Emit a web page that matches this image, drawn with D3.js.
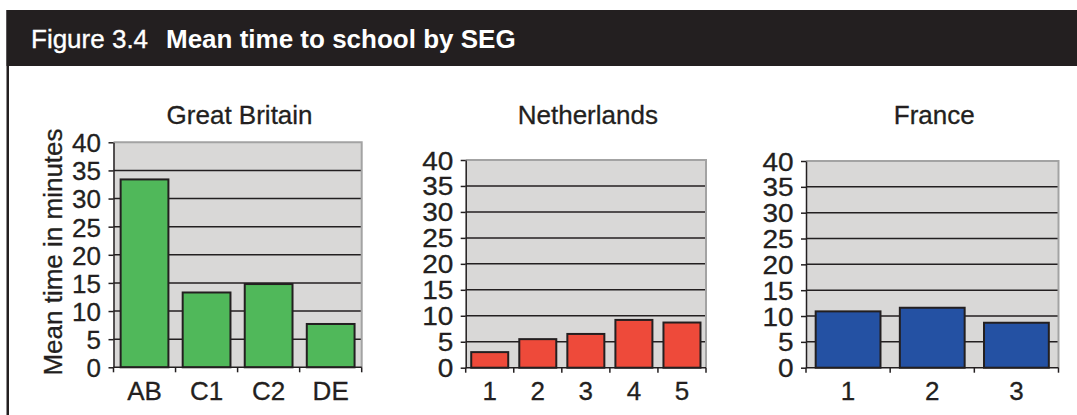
<!DOCTYPE html>
<html><head><meta charset="utf-8">
<script src="https://cdn.jsdelivr.net/npm/d3@7"></script>
<style>
body{margin:0;background:#fff}
svg{display:block}
text{font-family:"Liberation Sans", Arial, Helvetica, sans-serif;fill:#231f20}
</style>
</head><body>
<svg id="c" width="1077" height="415"></svg>
<script>
// ---- data ----
const figureNumber = "Figure 3.4";
const figureTitle = "Mean time to school by SEG";
const yAxisTitle = "Mean time in minutes";
const panelTitles = ["Great Britain", "Netherlands", "France"];
const gbCategories = ["AB", "C1", "C2", "DE"];
const gbValues = [33.4, 13.3, 14.8, 7.7];
const nlCategories = ["1", "2", "3", "4", "5"];
const nlValues = [3.0, 5.5, 6.5, 9.2, 8.7];
const frCategories = ["1", "2", "3"];
const frValues = [10.9, 11.6, 8.7];
const yTicks = [0, 5, 10, 15, 20, 25, 30, 35, 40];
const yMax = 40;

// ---- layout / styles ----
const DARK = "#231f20";
const svg = d3.select("#c");

// header band and left frame line
svg.append("rect").attr("x", 6.5).attr("y", 10).attr("width", 1077 - 6.5).attr("height", 56).attr("fill", DARK);
svg.append("rect").attr("x", 6.5).attr("y", 10).attr("width", 2.5).attr("height", 405).attr("fill", DARK);
svg.append("text").attr("x", 31).attr("y", 47.5).style("fill", "#fff")
  .style("stroke", "#fff").style("stroke-width", 0.35)
  .attr("font-size", 26).text(figureNumber);
svg.append("text").attr("x", 166).attr("y", 47.5).style("fill", "#fff")
  .attr("font-size", 26).attr("font-weight", "bold").text(figureTitle);

// y axis title
svg.append("text")
  .attr("transform", "translate(62,252) rotate(-90)")
  .attr("text-anchor", "middle").attr("font-size", 26)
  .style("stroke", DARK).style("stroke-width", 0.3)
  .text(yAxisTitle);

const panels = [
  {title: panelTitles[0], cats: gbCategories, vals: gbValues, color: "#50b85a",
   left: 113.5, right: 361.7, top: 142.3, bottom: 367.3, yFont: 26, ySx: 1.0, yPad: 7.5},
  {title: panelTitles[1], cats: nlCategories, vals: nlValues, color: "#ee4a3a",
   left: 465.7, right: 706, top: 160, bottom: 367.7, yFont: 25, ySx: 1.12, yPad: 6},
  {title: panelTitles[2], cats: frCategories, vals: frValues, color: "#2451a3",
   left: 806, right: 1058.5, top: 161, bottom: 367.7, yFont: 25, ySx: 1.12, yPad: 6}
];

panels.forEach(p => {
  const g = svg.append("g");
  const x = d3.scaleBand().domain(p.cats).range([p.left, p.right]).padding(0);
  const y = d3.scaleLinear().domain([0, yMax]).range([p.bottom, p.top]);

  // plot background
  g.append("rect").attr("x", p.left).attr("y", p.top)
    .attr("width", p.right - p.left).attr("height", p.bottom - p.top).attr("fill", "#d9d8d7");

  // gridlines
  g.selectAll(".grid").data(yTicks.filter(t => t > 0 && t < yMax)).join("line")
    .attr("x1", p.left).attr("x2", p.right)
    .attr("y1", d => y(d)).attr("y2", d => y(d))
    .attr("stroke", DARK).attr("stroke-width", 1.5);

  // top and right border (gray)
  g.append("path")
    .attr("d", `M${p.left},${y(yMax)}H${p.right}V${p.bottom}`)
    .attr("fill", "none").attr("stroke", "#a3a3a3").attr("stroke-width", 2);

  // bars
  const inset = 0.115;
  g.selectAll(".bar").data(p.cats.map((c, i) => ({c, v: p.vals[i]}))).join("rect")
    .attr("x", d => x(d.c) + x.bandwidth() * inset)
    .attr("width", x.bandwidth() * (1 - 2 * inset))
    .attr("y", d => y(d.v))
    .attr("height", d => y(0) - y(d.v))
    .attr("fill", p.color).attr("stroke", DARK).attr("stroke-width", 2);

  // y axis
  const ya = g.append("g").attr("transform", `translate(${p.left},0)`)
    .call(d3.axisLeft(y).tickValues(yTicks).tickSize(5).tickSizeOuter(0).tickPadding(p.yPad));
  ya.select(".domain").attr("stroke", DARK).attr("stroke-width", 1.5);
  ya.selectAll(".tick line").attr("stroke", DARK).attr("stroke-width", 1.5);
  ya.selectAll(".tick text").attr("font-size", p.yFont).attr("font-family", null)
    .attr("fill", DARK).attr("dy", "0.36em")
    .style("stroke", DARK).style("stroke-width", 0.3)
    .attr("transform", `scale(${p.ySx},1)`);

  // x axis baseline + boundary ticks
  g.append("line").attr("x1", p.left).attr("x2", p.right)
    .attr("y1", y(0)).attr("y2", y(0)).attr("stroke", DARK).attr("stroke-width", 1.5);
  const bounds = p.cats.map(c => x(c)).concat([x(p.cats[p.cats.length - 1]) + x.bandwidth()]);
  g.selectAll(".xt").data(bounds).join("line")
    .attr("x1", d => d).attr("x2", d => d)
    .attr("y1", y(0)).attr("y2", y(0) + 5)
    .attr("stroke", DARK).attr("stroke-width", 1.5);
  const xa = g.append("g").attr("transform", `translate(0,${y(0)})`)
    .call(d3.axisBottom(x).tickSize(0).tickPadding(14));
  xa.select(".domain").remove();
  xa.selectAll(".tick text").attr("font-size", 26).attr("font-family", null).attr("fill", DARK)
    .style("stroke", DARK).style("stroke-width", 0.3);

  // panel title
  g.append("text").attr("x", (p.left + p.right) / 2 + 2).attr("y", 124)
    .attr("text-anchor", "middle").attr("font-size", 26)
    .style("stroke", DARK).style("stroke-width", 0.3)
    .text(p.title);
});
</script>
</body></html>
